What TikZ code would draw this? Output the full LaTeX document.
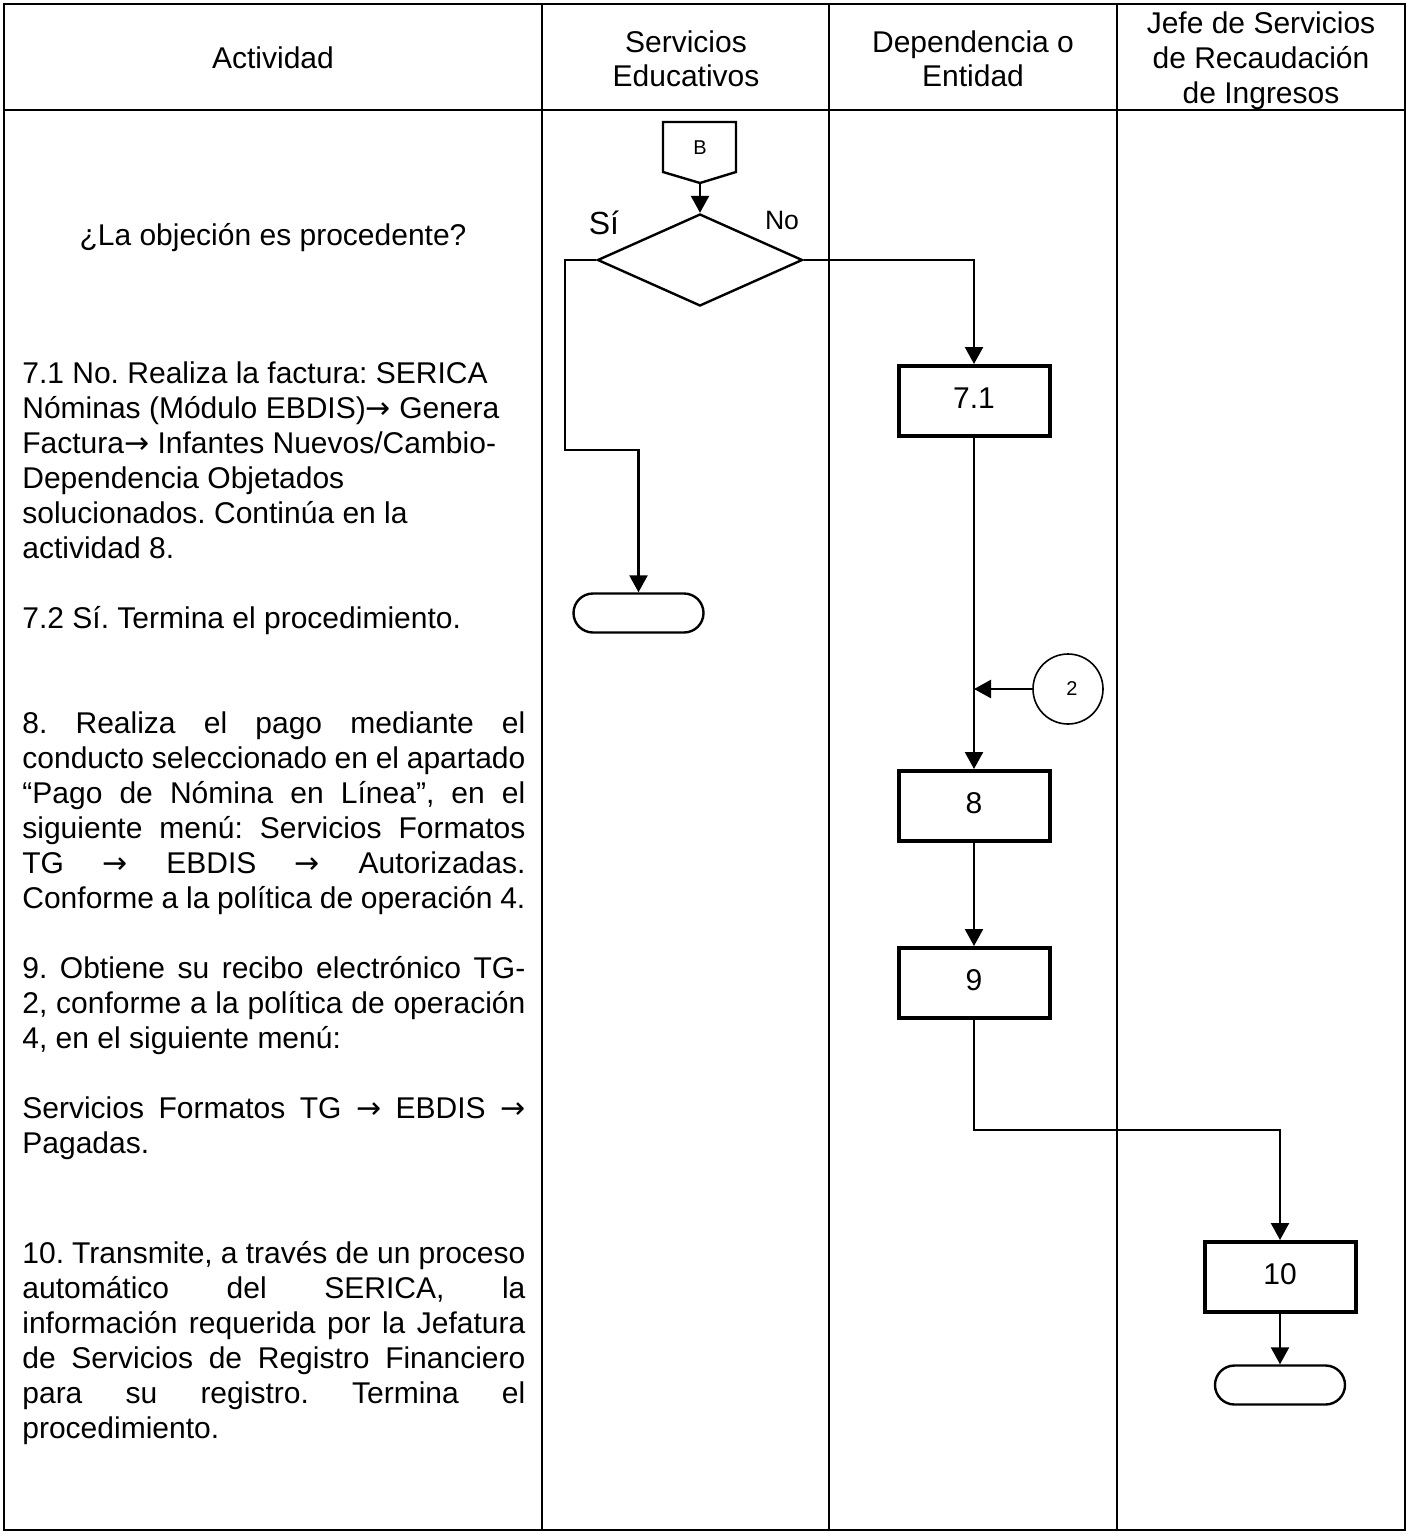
\documentclass[tikz,border=0pt]{standalone}
\usepackage{fontspec}
\setmainfont{Liberation Sans}
\newfontfamily\arrfont{DejaVu Sans}
\usetikzlibrary{arrows.meta,shapes.geometric}
\newcommand\jl[1]{\makebox[251.5pt][s]{#1}}
\newcommand\ar{{\arrfont →}}
\frenchspacing
\begin{document}
\begin{tikzpicture}[x=0.5pt,y=-0.5pt,
 txt/.style={anchor=base west,inner sep=0pt,font=\fontsize{15}{17.5}\selectfont},
 hdr/.style={anchor=base,inner sep=0pt,font=\fontsize{15}{17.5}\selectfont},
 gridline/.style={line width=0.7pt},
 conn/.style={line width=1.2pt,-{Triangle[length=8.5pt,width=9pt]}},
 procbox/.style={draw,line width=2pt,minimum width=75.5pt,minimum height=35pt,inner sep=0pt,font=\fontsize{15}{17.5}\selectfont},
 termbox/.style={draw,line width=1.2pt,rounded corners=9.75pt,minimum width=65pt,minimum height=19.5pt,inner sep=0pt},
 decision/.style={draw,diamond,line width=1.2pt,minimum width=102.5pt,minimum height=46pt,inner sep=0pt,aspect=2.2},
 smalllbl/.style={inner sep=0pt,font=\fontsize{10}{12}\selectfont}
]
\useasboundingbox (0,0) rectangle (1410,1537);
\fill[white] (0,0) rectangle (1410,1537);
% table
\draw[gridline] (4,4) rectangle (1405,1530);
\draw[gridline] (4,110) -- (1405,110);
\draw[gridline] (542,4) -- (542,1530);
\draw[gridline] (829,4) -- (829,1530);
\draw[gridline] (1117,4) -- (1117,1530);
% headers
\node[hdr] (h1) at (273,68) {Actividad};
\node[hdr] (h2a) at (686,52) {Servicios};
\node[hdr] (h2b) at (686,86) {Educativos};
\node[hdr] (h3a) at (973,52) {Dependencia o};
\node[hdr] (h3b) at (973,86) {Entidad};
\node[hdr] (h4a) at (1261,33) {Jefe de Servicios};
\node[hdr] (h4b) at (1261,68) {de Recaudación};
\node[hdr] (h4c) at (1261,103) {de Ingresos};
% activity text
\node[hdr] (q) at (273,245) {¿La objeción es procedente?};
\node[txt] (a1) at (22,383) {7.1 No. Realiza la factura: SERICA};
\node[txt] (a2) at (22,418) {Nóminas (Módulo EBDIS)\ar{} Genera};
\node[txt] (a3) at (22,453) {Factura\ar{} Infantes Nuevos/Cambio-};
\node[txt] (a4) at (22,488) {Dependencia Objetados};
\node[txt] (a5) at (22,523) {solucionados. Continúa en la};
\node[txt] (a6) at (22,558) {actividad 8.};
\node[txt] (b1) at (22,628) {7.2 Sí. Termina el procedimiento.};
\node[txt] (c1) at (22,733) {\jl{8. Realiza el pago mediante el}};
\node[txt] (c2) at (22,768) {\jl{conducto seleccionado en el apartado}};
\node[txt] (c3) at (22,803) {\jl{“Pago de Nómina en Línea”, en el}};
\node[txt] (c4) at (22,838) {\jl{siguiente menú: Servicios Formatos}};
\node[txt] (c5) at (22,873) {\jl{TG \ar{} EBDIS \ar{} Autorizadas.}};
\node[txt] (c6) at (22,908) {\jl{Conforme a la política de operación 4.}};
\node[txt] (d1) at (22,978) {\jl{9. Obtiene su recibo electrónico TG-}};
\node[txt] (d2) at (22,1013) {\jl{2, conforme a la política de operación}};
\node[txt] (d3) at (22,1048) {4, en el siguiente menú:};
\node[txt] (e1) at (22,1118) {\jl{Servicios Formatos TG \ar{} EBDIS \ar}};
\node[txt] (e2) at (22,1153) {Pagadas.};
\node[txt] (f1) at (22,1263) {\jl{10. Transmite, a través de un proceso}};
\node[txt] (f2) at (22,1298) {\jl{automático del SERICA, la}};
\node[txt] (f3) at (22,1333) {\jl{información requerida por la Jefatura}};
\node[txt] (f4) at (22,1368) {\jl{de Servicios de Registro Financiero}};
\node[txt] (f5) at (22,1403) {\jl{para su registro. Termina el}};
\node[txt] (f6) at (22,1438) {procedimiento.};
% off-page connector B
\draw[line width=1.2pt,line join=miter] (663,122) -- (736,122) -- (736,172) -- (700,183) -- (663,172) -- cycle;
\node[smalllbl] (B) at (700,148) {B};
\coordinate (Btip) at (700,183);
% decision
\node[decision] (dec) at (700,260) {};
\node[anchor=base,inner sep=0pt,font=\fontsize{16}{18}\selectfont] (si) at (604,234) {Sí};
\node[anchor=base,inner sep=0pt,font=\fontsize{13.3}{16}\selectfont] (no) at (782,229) {No};
\draw[conn] (Btip) -- (dec.north);
% end terminal 1
\node[termbox] (t1) at (638.5,613) {};
\draw[conn] (dec.west) -- (565,260) -- (565,450) -- (638.5,450) -- (t1.north);
% process boxes
\node[procbox] (p71) at (974,401) {\raisebox{2.5pt}{7.1}};
\node[procbox] (p8) at (974,806) {\raisebox{2.5pt}{8}};
\node[procbox] (p9) at (974,983) {\raisebox{2.5pt}{9}};
\node[procbox] (p10) at (1280,1277) {\raisebox{2.5pt}{10}};
\node[termbox] (t2) at (1280,1385) {};
\draw[conn] (dec.east) -- (974,260) -- (p71.north);
\draw[conn] (p71.south) -- (p8.north);
% connector 2
\node[draw,circle,line width=0.8pt,minimum size=35pt,inner sep=0pt,font=\fontsize{10}{12}\selectfont] (c2n) at (1068,689) {\hspace{4pt}2};
\coordinate (join) at (974,689);
\draw[conn] (c2n.west) -- (join);
\draw[conn] (p8.south) -- (p9.north);
\draw[conn] (p9.south) -- (974,1130) -- (1280,1130) -- (p10.north);
\draw[conn] (p10.south) -- (t2.north);
\end{tikzpicture}
\end{document}
